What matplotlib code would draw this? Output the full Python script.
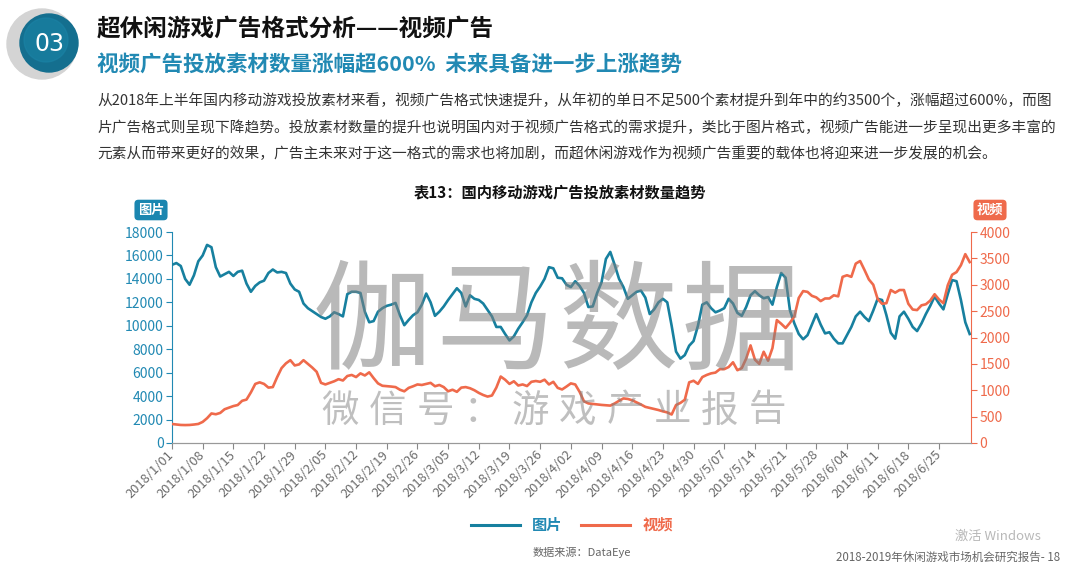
import matplotlib
matplotlib.use("Agg")
import matplotlib.pyplot as plt
import numpy as np
import pandas as pd
from matplotlib.lines import Line2D
from matplotlib.patches import Circle

plt.rcParams['font.family'] = ['Noto Sans CJK SC', 'DejaVu Sans']

# ---- 数据（按日，2018/1/01 起）----
start_date = "2018-01-01"
pic_counts = [15200, 15350, 15100, 14000, 13500, 14300, 15500, 16000, 16900, 16700,
              15000, 14200, 14400, 14600, 14250, 14600, 14700, 13600, 12900, 13400,
              13700, 13850, 14500, 14800, 14550, 14600, 14500, 13600, 13100, 12900,
              11900, 11500, 11250, 11000, 10750, 10600, 10800, 11150, 11000, 10800,
              12700, 12900, 12900, 12800, 11200, 10300, 10400, 11200, 11500, 11700,
              11800, 11950, 10900, 10050, 10500, 10900, 11150, 11800, 12750, 12000,
              10850, 11200, 11650, 12200, 12700, 13200, 12800, 11650, 12600, 12300,
              12200, 11900, 11350, 10800, 9900, 9900, 9300, 8750, 9100, 9750,
              10300, 10900, 12000, 12800, 13350, 14000, 15000, 14900, 14100, 14050,
              13500, 13300, 13800, 13400, 12800, 11600, 11650, 12800, 13700, 15700,
              16300, 15200, 14000, 13300, 12300, 12600, 12900, 13000, 12400, 11000,
              11400, 12000, 12300, 12000, 10000, 7800, 7200, 7500, 8300, 8700,
              10000, 11800, 12000, 11500, 11150, 11300, 11500, 12300, 11900, 11100,
              10850, 11600, 12600, 12950, 12600, 12350, 12450, 11800, 13300, 14500,
              14100, 11300, 10200, 9300, 8850, 9200, 10100, 11000, 10100, 9350,
              9450, 8900, 8500, 8500, 9200, 9900, 10800, 11200, 10750, 10400,
              11300, 12300, 12200, 10900, 9400, 8900, 10800, 11200, 10600, 9900,
              9550, 10200, 11000, 11700, 12500, 11900, 11400, 12700, 13900, 13800,
              12200, 10300, 9300]
video_counts = [360, 350, 342, 340, 342, 350, 361, 400, 470, 560,
                545, 570, 640, 670, 700, 720, 800, 823, 960, 1120,
                1150, 1120, 1050, 1060, 1250, 1420, 1510, 1570, 1470, 1490,
                1570, 1500, 1430, 1350, 1140, 1110, 1140, 1170, 1210, 1185,
                1270, 1290, 1250, 1320, 1280, 1340, 1230, 1130, 1085, 1078,
                1070, 1060, 1010, 980, 1045, 1075, 1110, 1100, 1120, 1140,
                1076, 1100, 1060, 980, 1010, 970, 1050, 1060, 1038, 1000,
                950, 910, 880, 900, 1050, 1260, 1200, 1120, 1170, 1090,
                1110, 1080, 1160, 1175, 1160, 1200, 1110, 1160, 1045, 1015,
                1070, 1130, 1110, 970, 790, 750, 740, 730, 722, 715,
                709, 750, 800, 845, 835, 810, 770, 730, 685, 665,
                646, 625, 600, 580, 540, 720, 760, 820, 1150, 1180,
                1120, 1250, 1290, 1320, 1335, 1400, 1400, 1440, 1530, 1380,
                1420, 1600, 1850, 1580, 1500, 1730, 1560, 1800, 2330, 2260,
                2180, 2280, 2400, 2750, 2880, 2865, 2790, 2760, 2690, 2740,
                2740, 2800, 2780, 3150, 3180, 3150, 3400, 3450, 3280, 3100,
                3000, 2730, 2640, 2650, 2900, 2850, 2900, 2900, 2640, 2530,
                2520, 2610, 2630, 2700, 2820, 2720, 2650, 2990, 3190, 3240,
                3370, 3580, 3430]
left_ticks = [0, 2000, 4000, 6000, 8000, 10000, 12000, 14000, 16000, 18000]
right_ticks = [0, 500, 1000, 1500, 2000, 2500, 3000, 3500, 4000]

dates = pd.date_range(start_date, periods=len(pic_counts), freq="D")
days = np.arange(len(dates))
tick_idx = days[::7][:26]
tick_labels = [f"{d.year}/{d.month}/{d.day:02d}" for d in dates[tick_idx]]

TEAL = "#17809f"
TEAL_TXT = "#2189b3"
ORANGE = "#ef6a4b"
GREY = "#6b6b6b"

fig = plt.figure(figsize=(10.8, 5.75), dpi=100)
fig.patch.set_facecolor("white")

ax = fig.add_axes([172 / 1080, 1 - 443 / 575, 799 / 1080, 211 / 575])
ax2 = ax.twinx()
ax.plot(days, pic_counts, color=TEAL, lw=1.9, solid_joinstyle="round", zorder=3)
ax2.plot(days, video_counts, color=ORANGE, lw=1.9, solid_joinstyle="round", zorder=3)

ax.set_xlim(0, 182.3)
ax.set_ylim(0, 18000)
ax2.set_ylim(0, 4000)
ax.set_yticks(left_ticks)
ax2.set_yticks(right_ticks)
ax.set_xticks(tick_idx)
ax.set_xticklabels(tick_labels, rotation=45, ha="right", va="center",
                   rotation_mode="anchor", color=GREY, fontsize=9.3)
ax.tick_params(axis="x", colors="#888888", length=4, pad=3, labelcolor=GREY)
ax.tick_params(axis="y", colors=TEAL_TXT, length=4, labelsize=10, pad=2)
ax2.tick_params(axis="y", colors=ORANGE, length=4, labelsize=10, pad=2)

for a in (ax, ax2):
    a.spines["top"].set_visible(False)
    a.set_facecolor("none")
ax.spines["left"].set_color(TEAL_TXT)
ax.spines["right"].set_visible(False)
ax2.spines["left"].set_visible(False)
ax2.spines["right"].set_color(ORANGE)
ax2.spines["bottom"].set_color("#999999")
ax.spines["bottom"].set_color("#999999")

# ---- 叠加层：标题、说明、水印（像素坐标）----
ov = fig.add_axes([0, 0, 1, 1], zorder=5)
ov.set_xlim(0, 1080)
ov.set_ylim(575, 0)
ov.axis("off")
ov.patch.set_alpha(0)

ov.add_patch(Circle((42, 44), 35, color="#d4d4d4", zorder=1))
ov.add_patch(Circle((49, 43), 29, color="#146f8f", zorder=2))
ov.add_patch(Circle((46, 40), 22, color="#1b85a8", alpha=0.55, zorder=2))
ov.text(49, 44, "03", color="white", fontsize=17, ha="center", va="center",
        family=["Liberation Sans Narrow", "DejaVu Sans"], zorder=3)

ov.text(97, 29, "超休闲游戏广告格式分析——视频广告", fontsize=17, fontweight="bold",
        color="#111111", va="center", ha="left")
ov.text(97, 64, "视频广告投放素材数量涨幅超600%  未来具备进一步上涨趋势", fontsize=15.5,
        fontweight="bold", color=TEAL_TXT, va="center", ha="left")

para = [
    "从2018年上半年国内移动游戏投放素材来看，视频广告格式快速提升，从年初的单日不足500个素材提升到年中的约3500个，涨幅超过600%，而图",
    "片广告格式则呈现下降趋势。投放素材数量的提升也说明国内对于视频广告格式的需求提升，类比于图片格式，视频广告能进一步呈现出更多丰富的",
    "元素从而带来更好的效果，广告主未来对于这一格式的需求也将加剧，而超休闲游戏作为视频广告重要的载体也将迎来进一步发展的机会。",
]
for i, line in enumerate(para):
    ov.text(97, 101 + i * 26.5, line, fontsize=10.6, color="#333333", va="center", ha="left")

ov.text(560, 192, "表13：国内移动游戏广告投放素材数量趋势", fontsize=11, fontweight="bold",
        color="#111111", ha="center", va="center")

ov.text(151, 210, "图片", fontsize=9.5, fontweight="bold", color="white", ha="center", va="center",
        bbox=dict(boxstyle="round,pad=0.25,rounding_size=0.3", fc="#1a86b0", ec="none"))
ov.text(990, 210, "视频", fontsize=9.5, fontweight="bold", color="white", ha="center", va="center",
        bbox=dict(boxstyle="round,pad=0.25,rounding_size=0.3", fc=ORANGE, ec="none"))

# 水印
for i, ch in enumerate("伽马数据"):
    ov.text(372 + i * 123, 326, ch, fontsize=86, color="#808080", alpha=0.55,
            fontweight="light", ha="center", va="center")
for i, ch in enumerate("微信号：游戏产业报告"):
    ov.text(340 + i * 47.5, 411, ch, fontsize=27, color="#808080", alpha=0.5,
            fontweight="light", ha="center", va="center")

# 图例
handles = [Line2D([], [], color=TEAL, lw=2.2), Line2D([], [], color=ORANGE, lw=2.2)]
leg = fig.legend(handles, ["图片", "视频"], loc="center", bbox_to_anchor=(572 / 1080, 1 - 525 / 575),
                 ncol=2, frameon=False, handlelength=3.2, columnspacing=1.2,
                 prop={"weight": "bold", "size": 11})
for t, c in zip(leg.get_texts(), (TEAL_TXT, ORANGE)):
    t.set_color(c)

ov.text(582, 552, "数据来源：DataEye", fontsize=8, color="#666666", ha="center", va="center")
ov.text(1060, 557, "2018-2019年休闲游戏市场机会研究报告- 18", fontsize=8.3, color="#666666",
        ha="right", va="center")
ov.text(955, 536, "激活 Windows", fontsize=9.5, color="#b8b8b8", ha="left", va="center")

fig.savefig("out.png", dpi=100, facecolor="white")
